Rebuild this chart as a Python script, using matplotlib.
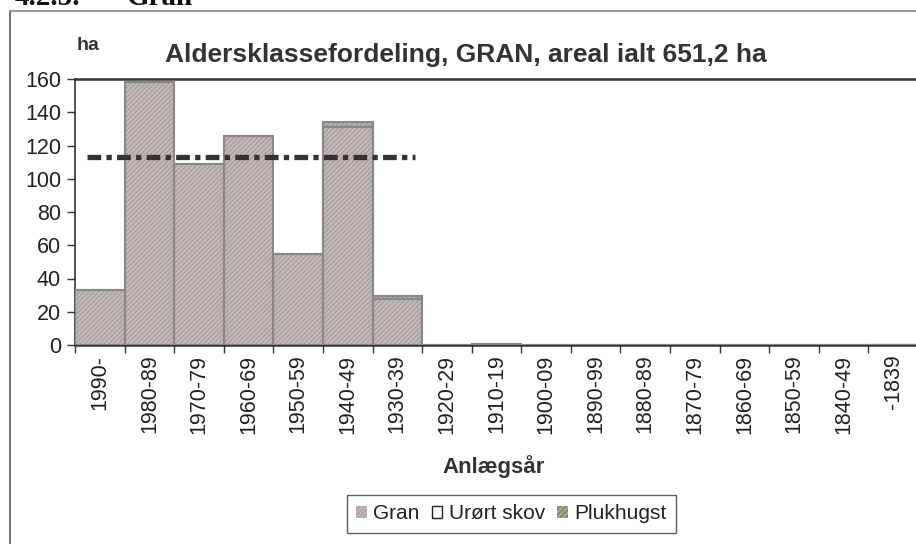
import matplotlib
matplotlib.use("Agg")
import matplotlib.pyplot as plt
from matplotlib.patches import Patch
from matplotlib.lines import Line2D

# data
classes = ["1990-", "1980-89", "1970-79", "1960-69", "1950-59", "1940-49", "1930-39",
           "1920-29", "1910-19", "1900-09", "1890-99", "1880-89", "1870-79", "1860-69",
           "1850-59", "1840-49", "-1839"]
gran = [33, 158, 109, 126, 55, 131, 27.5, 0, 0.8, 0, 0, 0, 0, 0, 0, 0, 0]
urort = [0, 0, 0, 0, 0, 0.4, 0, 0, 0, 0, 0, 0, 0, 0, 0, 0, 0]
pluk = [0, 0, 0, 0, 0, 2.6, 2, 0, 0, 0, 0, 0, 0, 0, 0, 0, 0]
normal_level = 113
normal_span = [0.25, 6.85]

plt.rcParams['font.family'] = ['Liberation Sans', 'DejaVu Sans']
plt.rcParams['hatch.linewidth'] = 0.7

fig = plt.figure(figsize=(9.16, 5.44), dpi=100)
W, H = 916, 544
ax = fig.add_axes([75 / W, 1 - 345 / H, (918 - 75) / W, (345 - 79) / H])

x = [i + 0.5 for i in range(len(classes))]
bottom2 = [g + u for g, u in zip(gran, urort)]

gran_face, gran_hatch = '#c2bab8', '#a09795'
pluk_face, pluk_hatch = '#b4b2a8', '#8a9080'

# Gran
ax.bar(x, gran, width=1, color=gran_face, edgecolor=gran_hatch, hatch='///////', linewidth=0, zorder=2)
ax.bar(x, gran, width=1, fill=False, edgecolor='#888888', linewidth=1.5, zorder=3)
# Urørt skov
ax.bar(x, urort, width=1, bottom=gran, color='white', edgecolor='#222222', linewidth=1.2, zorder=3)
# Plukhugst
ax.bar(x, pluk, width=1, bottom=bottom2, color=pluk_face, edgecolor=pluk_hatch, hatch='///////', linewidth=0, zorder=2)
ax.bar(x, pluk, width=1, bottom=bottom2, fill=False, edgecolor='#888888', linewidth=1.5, zorder=3)

ax.plot(normal_span, [normal_level, normal_level], color='#333333', lw=3.8,
        linestyle=(0, (2.6, 1.0, 1.0, 1.0)), zorder=4)

ax.set_xlim(0, 17)
ax.set_ylim(0, 160)
ax.set_yticks(range(0, 161, 20))
ax.set_xticks(range(0, 17))
ax.set_xticklabels([])
ax.set_xticks(x, minor=True)
ax.set_xticklabels(classes, minor=True, rotation=90, fontsize=15.5, color='#222222')
ax.tick_params(axis='x', which='minor', length=0, pad=7)
ax.tick_params(axis='x', which='major', length=6, width=1, color='#333333', direction='out')
ax.tick_params(axis='y', length=6, width=1, color='#333333', labelsize=15.5, labelcolor='#222222', pad=4)

for s in ['left', 'bottom', 'top']:
    ax.spines[s].set_color('#333333')
    ax.spines[s].set_linewidth(1.8)
ax.spines['left'].set_linewidth(1.2)
ax.spines['right'].set_visible(False)

fig.text(466 / W, 1 - 62 / H, "Aldersklassefordeling, GRAN, areal ialt 651,2 ha",
         ha='center', va='baseline', fontsize=19, fontweight='bold', color='#333333')
fig.text(88 / W, 1 - 50 / H, "ha", ha='center', va='baseline', fontsize=14, fontweight='bold', color='#333333')
fig.text(494 / W, 1 - 473 / H, "Anlægsår", ha='center', va='baseline', fontsize=16, fontweight='bold', color='#333333')

# page heading, mostly cut off at the top
fig.text(15 / W, 1 - 5 / H, "4.2.5.", ha='left', va='baseline', fontsize=21,
         fontweight='bold', family='Liberation Serif', color='#111111')
fig.text(127 / W, 1 - 5 / H, "Gran", ha='left', va='baseline', fontsize=21,
         fontweight='bold', family='Liberation Serif', color='#111111')

# outer chart border
fig.add_artist(Line2D([10 / W, 10 / W], [0, 1 - 11 / H], color='#555555', lw=1.2))
fig.add_artist(Line2D([10 / W, 1], [1 - 11 / H, 1 - 11 / H], color='#999999', lw=1.5))

handles = [
    Patch(facecolor=gran_face, edgecolor=gran_hatch, hatch='///////', linewidth=0),
    Patch(facecolor='white', edgecolor='#222222', linewidth=1.0),
    Patch(facecolor='#9aa890', edgecolor='#5f7a50', hatch='//////', linewidth=0),
]
leg = fig.legend(handles, ["Gran", "Urørt skov", "Plukhugst"], loc='upper left',
                 bbox_to_anchor=(347 / W, 1 - 495 / H), ncol=3, frameon=True, fancybox=False,
                 handlelength=0.5, handleheight=0.5, handletextpad=0.3, columnspacing=0.6,
                 borderpad=0.45, borderaxespad=0, fontsize=15)
leg.get_frame().set_edgecolor('#333333')
leg.get_frame().set_linewidth(1.0)
for t in leg.get_texts():
    t.set_color('#222222')

fig.savefig("out.png", dpi=100)
